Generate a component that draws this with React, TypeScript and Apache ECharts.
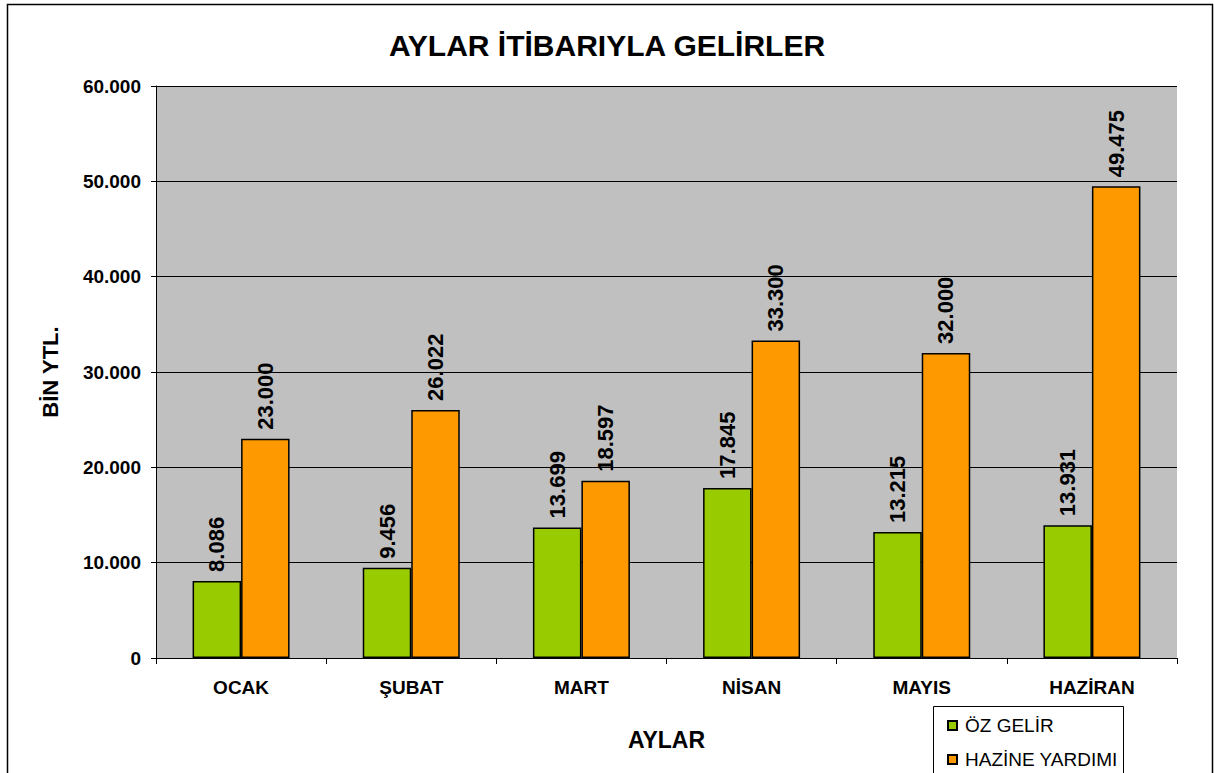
import React, { useEffect, useRef } from "react";
import * as echarts from "echarts";

const categories = ["OCAK", "ŞUBAT", "MART", "NİSAN", "MAYIS", "HAZİRAN"];
const ozGelir = [8086, 9456, 13699, 17845, 13215, 13931];
const hazineYardimi = [23000, 26022, 18597, 33300, 32000, 49475];
const seriesNames = ["ÖZ GELİR", "HAZİNE YARDIMI"];
const titleText = "AYLAR İTİBARIYLA GELİRLER";
const yAxisName = "BİN YTL.";
const xAxisName = "AYLAR";

const fmt = (v: number) => String(Math.round(v)).replace(/\B(?=(\d{3})+(?!\d))/g, ".");

const FONT = "'Liberation Sans', Arial, sans-serif";

export default function App() {
  const ref = useRef<HTMLDivElement>(null);
  useEffect(() => {
    document.body.style.margin = "0";
    const chart = echarts.init(ref.current!, null, { renderer: "svg" });
    const labelCfg = {
      show: true,
      position: "top",
      rotate: 90,
      align: "left",
      verticalAlign: "middle",
      distance: 9,
      formatter: (p: any) => fmt(p.value),
      fontFamily: FONT,
      fontWeight: "bold",
      fontSize: 22,
      color: "#000",
    };
    const legendBase = {
      orient: "vertical",
      left: 947,
      itemWidth: 9,
      itemHeight: 9,
      icon: "rect",
      padding: 0,
      textStyle: { fontFamily: FONT, fontSize: 19, color: "#000", padding: [0, 0, 0, 3] },
    };
    chart.setOption({
      animation: false,
      backgroundColor: "#fff",
      textStyle: { fontFamily: FONT },
      title: {
        text: titleText,
        left: "center",
        top: 30,
        padding: 0,
        textStyle: { fontFamily: FONT, fontWeight: "bold", fontSize: 30, color: "#000" },
      },
      grid: { left: 156, top: 86, width: 1021, height: 572, containLabel: false, show: true, backgroundColor: "#C0C0C0", borderWidth: 0 },
      legend: [
        { ...legendBase, top: 716, data: [seriesNames[0]] },
        { ...legendBase, top: 750, data: [seriesNames[1]] },
      ],
      xAxis: {
        type: "category",
        data: categories,
        name: xAxisName,
        nameLocation: "middle",
        nameGap: 70,
        nameTextStyle: { fontFamily: FONT, fontWeight: "bold", fontSize: 23, color: "#000" },
        axisLine: { lineStyle: { color: "#000", width: 1 } },
        axisTick: { show: true, length: 6, alignWithLabel: false, lineStyle: { color: "#000" } },
        axisLabel: { fontFamily: FONT, fontWeight: "bold", fontSize: 19, color: "#000", margin: 20 },
      },
      yAxis: {
        type: "value",
        min: 0,
        max: 60000,
        interval: 10000,
        name: yAxisName,
        nameLocation: "middle",
        nameGap: 95,
        nameRotate: 90,
        nameTextStyle: { fontFamily: FONT, fontWeight: "bold", fontSize: 22, color: "#000" },
        axisLine: { show: true, lineStyle: { color: "#000", width: 1 } },
        axisTick: { show: true, length: 5, lineStyle: { color: "#000" } },
        axisLabel: { fontFamily: FONT, fontWeight: "bold", fontSize: 19, color: "#000", margin: 15, formatter: (v: number) => fmt(v) },
        splitLine: { show: true, lineStyle: { color: "#000", width: 1 } },
      },
      series: [
        {
          name: seriesNames[0],
          type: "bar",
          data: ozGelir,
          barGap: "0%",
          barCategoryGap: "43%",
          itemStyle: { color: "#99CC00", borderColor: "#000", borderWidth: 1.5 },
          label: labelCfg,
        },
        {
          name: seriesNames[1],
          type: "bar",
          data: hazineYardimi,
          barGap: "0%",
          barCategoryGap: "43%",
          itemStyle: { color: "#FF9900", borderColor: "#000", borderWidth: 1.5 },
          label: labelCfg,
        },
      ],
      graphic: [
        { type: "rect", shape: { x: 7.5, y: 4.5, width: 1205, height: 800 }, style: { fill: "none", stroke: "#000", lineWidth: 1.5 }, z: 100, silent: true },
        { type: "rect", shape: { x: 933.5, y: 706.5, width: 190, height: 100 }, style: { fill: "none", stroke: "#000", lineWidth: 1 }, z: 100, silent: true },
      ],
    });
    return () => chart.dispose();
  }, []);
  return <div ref={ref} style={{ width: 1214, height: 773 }} />;
}
